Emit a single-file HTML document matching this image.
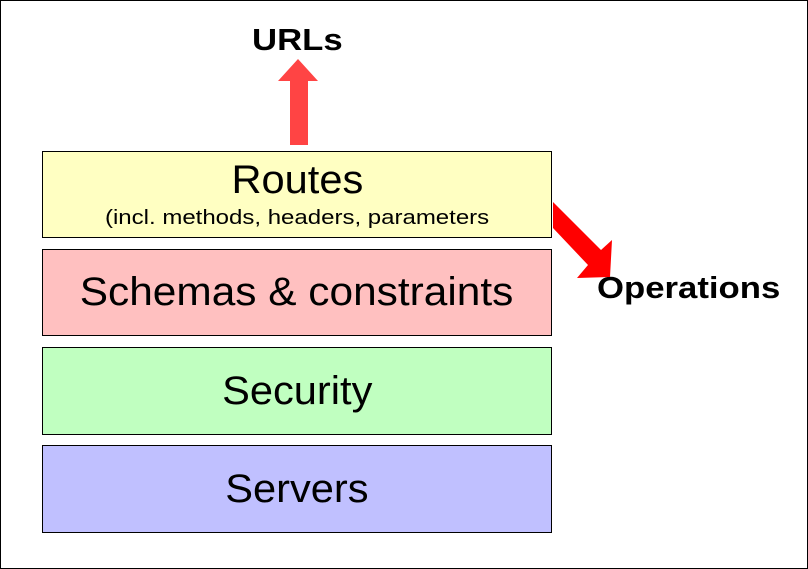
<!DOCTYPE html>
<html><head><style>
body{margin:0;width:808px;height:569px;position:relative;font-family:"Liberation Sans",Arial,sans-serif;background:#fff;overflow:hidden}
.frame{position:absolute;left:0;top:0;width:806px;height:567px;border:1px solid #000}
.b{position:absolute;left:42px;width:510px;border:1px solid #000;text-align:center;font-size:40px;box-sizing:border-box}
.b span{display:inline-block}
.t{position:absolute;font-weight:bold;font-size:31px;transform:scaleX(1.12);transform-origin:left}
</style></head><body>
<div class="frame"></div>
<div class="b" style="top:151px;height:87px;background:#ffffc2"><div style="margin-top:5px;line-height:46px"><span style="transform:scaleX(1.04)">Routes</span></div><div style="font-size:20px;margin-top:4px"><span style="transform:scaleX(1.2)">(incl. methods, headers, parameters</span></div></div>
<div class="b" style="top:249px;height:87px;background:#ffc0c0;line-height:85px"><span style="transform:scaleX(1.06)">Schemas &amp; constraints</span></div>
<div class="b" style="top:347px;height:88px;background:#c0ffc0;line-height:86px"><span style="transform:scaleX(1.04)">Security</span></div>
<div class="b" style="top:445px;height:88px;background:#c0c0ff;line-height:86px"><span style="transform:scaleX(1.04)">Servers</span></div>
<div class="t" style="left:252px;top:22px">URLs</div>
<div class="t" style="left:597px;top:270px">Operations</div>
<svg width="808" height="569" style="position:absolute;left:0;top:0">
<polygon points="290,145 308,145 308,81 318,81 298,59 278,81 290,81" fill="#ff4444"/>
<polygon points="553,202 601,250 612,240 610,277 577,278 588,265 553,228" fill="#ff0000"/>
</svg>
</body></html>
